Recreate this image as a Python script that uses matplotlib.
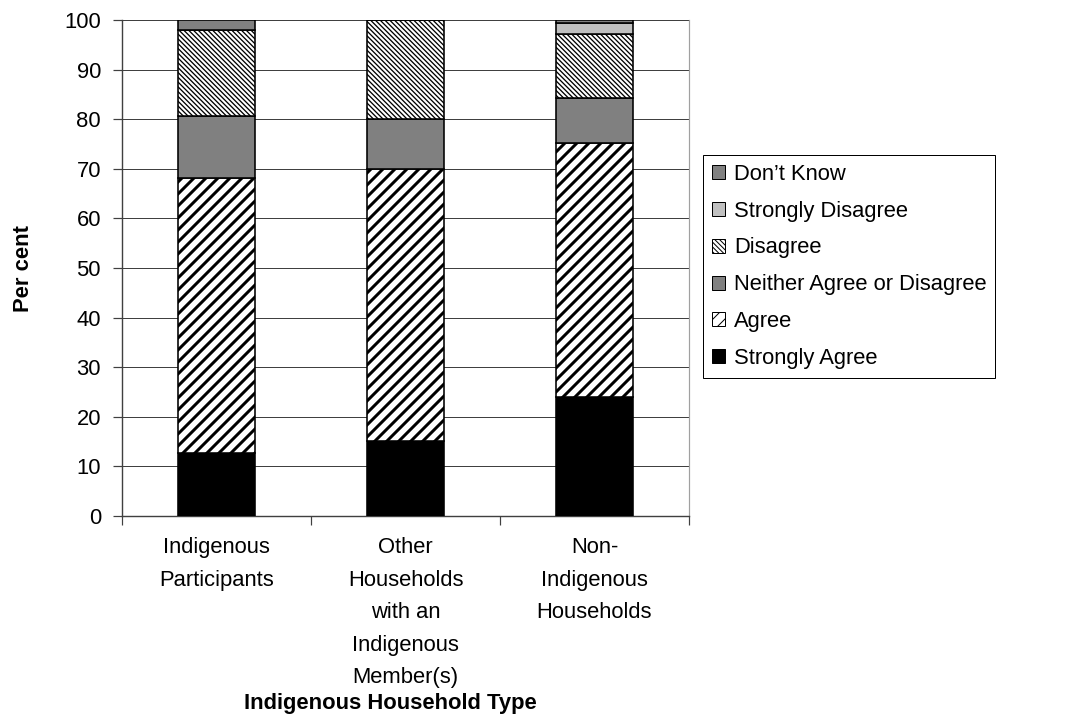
import matplotlib
matplotlib.use("Agg")
import matplotlib.pyplot as plt
from matplotlib.patches import Patch
import numpy as np

categories = ["Indigenous\nParticipants",
              "Other\nHouseholds\nwith an\nIndigenous\nMember(s)",
              "Non-\nIndigenous\nHouseholds"]
series_names = ["Strongly Agree", "Agree", "Neither Agree or Disagree",
                "Disagree", "Strongly Disagree", "Don\u2019t Know"]
strongly_agree = [12.8, 15.2, 24.0]
agree = [55.3, 54.8, 51.2]
neither = [12.6, 10.0, 9.1]
disagree = [17.2, 20.0, 12.9]
strongly_disagree = [0.0, 0.0, 2.2]
dont_know = [2.1, 0.0, 0.6]
yticks = [0, 10, 20, 30, 40, 50, 60, 70, 80, 90, 100]

values = [strongly_agree, agree, neither, disagree, strongly_disagree, dont_know]
facecolors = ["black", "white", "#808080", "white", "#c0c0c0", "#808080"]
hatches = [None, "//", None, "\\\\\\\\\\", None, None]
hatch_lw = [1.0, 3.0, 1.0, 1.3, 1.0, 1.0]

plt.rcParams['font.family'] = ['Liberation Sans', 'DejaVu Sans']

DPI = 72
fig = plt.figure(figsize=(1067 / DPI, 720 / DPI), dpi=DPI)
ax = fig.add_axes([122 / 1067, (720 - 516) / 720, (689 - 122) / 1067, (516 - 20) / 720])

x = np.arange(len(categories))
bottom = np.zeros(len(categories))
handles = []
for name, vals, fc, h, hl in zip(series_names, values, facecolors, hatches, hatch_lw):
    with plt.rc_context({'hatch.linewidth': hl, 'hatch.color': 'black'}):
        ax.bar(x, vals, width=0.41, bottom=bottom, color=fc, edgecolor="black",
               linewidth=1.6, hatch=h, zorder=3)
        handles.append(Patch(facecolor=fc, edgecolor="black", linewidth=1.0,
                             hatch=h, label=name))
    bottom += np.array(vals)

ax.set_xlim(-0.5, 2.5)
ax.set_ylim(0, 100)
ax.set_yticks(yticks)
ax.set_yticklabels([str(t) for t in yticks])
ax.yaxis.grid(True, color="#404040", linewidth=1.0, zorder=0)
ax.set_axisbelow(True)

ax.set_xticks([-0.5, 0.5, 1.5, 2.5])
ax.set_xticklabels([])
ax.set_xticks(x, minor=True)
ax.set_xticklabels(categories, minor=True, fontsize=22, linespacing=1.72)
ax.tick_params(axis="x", which="major", length=9, width=1.2, color="#404040", direction="out")
ax.tick_params(axis="x", which="minor", length=0, pad=21)
ax.tick_params(axis="y", length=9, width=1.2, color="#404040", direction="out", labelsize=22, pad=12)

for s in ["left", "bottom"]:
    ax.spines[s].set_color("#404040")
    ax.spines[s].set_linewidth(1.4)
ax.spines["top"].set_visible(False)
ax.spines["right"].set_color("#a0a0a0")
ax.spines["right"].set_linewidth(1.2)

ax.set_ylabel("Per cent", fontsize=22, fontweight="bold", labelpad=30)
fig.text(390 / 1067, 1 - 704 / 720, "Indigenous Household Type", fontsize=22,
         fontweight="bold", ha="center", va="center")

leg = fig.legend(handles=handles[::-1], loc="upper left",
                 bbox_to_anchor=(703 / 1067, 1 - 155 / 720),
                 fontsize=22, frameon=True, fancybox=False, framealpha=1,
                 edgecolor="black", handlelength=0.6, handleheight=0.6,
                 handletextpad=0.4, labelspacing=0.72, borderpad=0.4,
                 borderaxespad=0)
leg.get_frame().set_linewidth(1.0)

fig.savefig("out.png", dpi=DPI)
